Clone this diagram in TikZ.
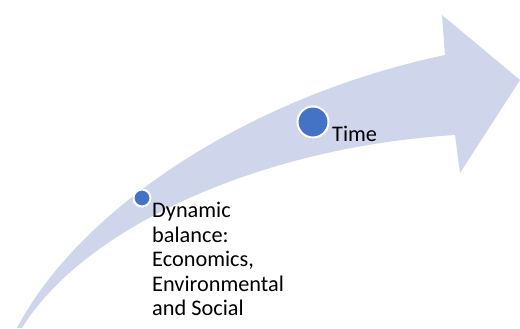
\documentclass[tikz,border=0pt]{standalone}
\usepackage{fontspec}
\setmainfont{Carlito}
\usepackage{tikz}
\usetikzlibrary{positioning}
\definecolor{bandfill}{HTML}{CFD5EA}
\definecolor{dotblue}{HTML}{4472C4}

\begin{document}
\begin{tikzpicture}[x=1bp,y=1bp,
	dot/.style={circle, fill=dotblue, draw=white, line width=2bp, inner sep=0pt},
	lbl/.style={inner sep=0pt, align=left, font=\fontsize{22.3bp}{24.6bp}\selectfont}]
	\useasboundingbox (0,0) rectangle (520,328);

	% curved band arrow
	\fill [bandfill] (17,0) .. controls (80,120) and (250,232) .. (445,273)
		-- (442,313) -- (520,248) -- (460,155) -- (455,193)
		.. controls (250,180) and (80,95) .. (22,0) -- cycle;

	\node (bal)  at (142bp,130bp) [dot, minimum size=17bp] {};
	\node (time) at (313bp,206bp) [dot, minimum size=31bp] {};

	\node (baltext)  at (152bp,126bp) [lbl, anchor=north west] {Dynamic\\balance:\\Economics,\\Environmental\\and Social};
	\node (timetext) at (332bp,187bp) [lbl, anchor=base west] {Time};
\end{tikzpicture}
\end{document}
